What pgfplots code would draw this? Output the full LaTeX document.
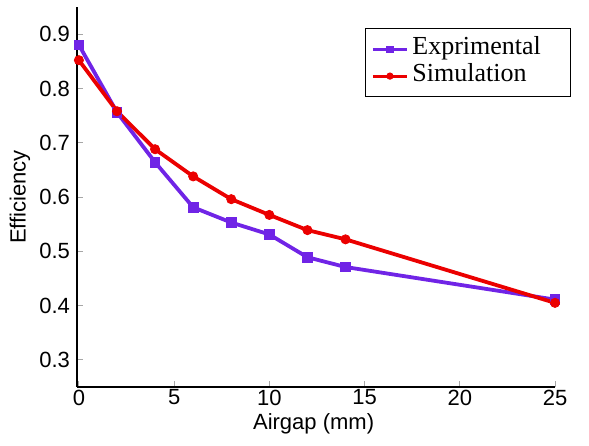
\documentclass[border=0pt]{standalone}
\usepackage{pgfplots}
\pgfplotsset{compat=1.18}
\usepackage{fontspec}
\setmainfont{Liberation Sans}
\newfontfamily\legendfont{Liberation Serif}
\definecolor{expcol}{RGB}{112,36,230}
\definecolor{simcol}{RGB}{235,0,0}
\begin{document}
\begin{tikzpicture}
\useasboundingbox (-38.5pt,-29pt) rectangle (256pt,193.5pt);
\begin{axis}[
  at={(0,0)}, anchor=south west,
  scale only axis, width=239pt, height=190pt,
  xmin=-0.1, xmax=25, ymin=0.25, ymax=0.95,
  axis lines*=left,
  axis line style={-, line width=0.75pt, black},
  xtick={0,5,10,15,20,25},
  ytick={0.3,0.4,0.5,0.6,0.7,0.8,0.9},
  tick align=inside, major tick length=3pt,
  tick style={black!35, line width=0.5pt},
  /pgf/number format/assume math mode=true,
  yticklabel style={/pgf/number format/fixed, /pgf/number format/precision=1, /pgf/number format/fixed zerofill},
  tick label style={font=\fontsize{11}{13}\selectfont},
  xticklabel style={inner sep=1.2pt},
  xlabel={Airgap (mm)},
  ylabel={Efficiency},
  label style={font=\fontsize{11}{13}\selectfont},
  xlabel style={at={(axis description cs:0.495,-0.0974)}, anchor=center},
  ylabel style={at={(axis description cs:-0.1192,0.5)}, anchor=center},
  clip=false,
  legend cell align=left,
  legend image post style={line width=1.4pt, mark size=1.6pt},
  legend style={at={(rel axis cs:0.602,0.945)}, anchor=north west,
    draw=black, line width=0.7pt,
    font=\legendfont\fontsize{13}{15}\selectfont,
    inner xsep=3pt, inner ysep=3.5pt, row sep=0pt,
    nodes={inner ysep=0.5pt, text height=9pt, text depth=3.5pt}},
]
\addplot[color=expcol, line width=1.9pt, mark=square*, mark size=2.4pt, mark options={solid, fill=expcol, line width=0.4pt}]
  coordinates {(0,0.880) (2,0.756) (4,0.664) (6,0.581) (8,0.553) (10,0.531) (12,0.489) (14,0.471) (25,0.411)};
\addlegendentry{\makebox[74pt][l]{Exprimental}}
\addplot[color=simcol, line width=1.9pt, mark=*, mark size=2.3pt, mark options={solid, fill=simcol, line width=0.4pt}]
  coordinates {(0,0.852) (2,0.758) (4,0.688) (6,0.638) (8,0.596) (10,0.567) (12,0.539) (14,0.522) (25,0.405)};
\addlegendentry{Simulation}
\end{axis}
\end{tikzpicture}
\end{document}
